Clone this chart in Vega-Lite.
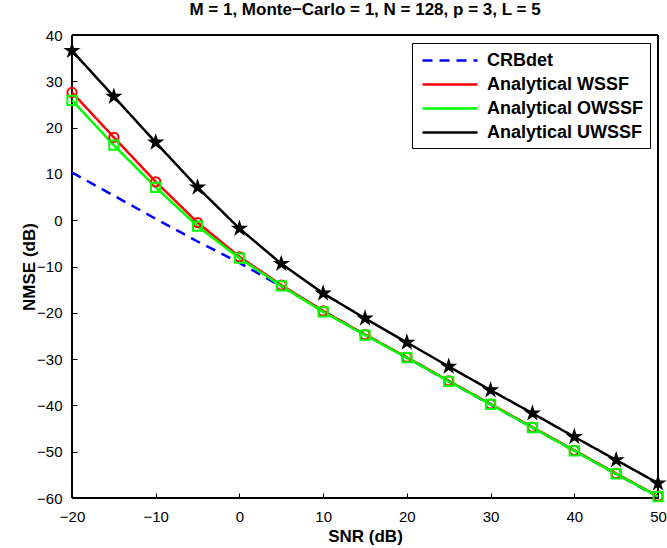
{
  "$schema": "https://vega.github.io/schema/vega-lite/v6.json",
  "width": 586,
  "height": 463,
  "autosize": {"type": "none"},
  "padding": {"left": 72, "top": 35, "right": 9, "bottom": 50},
  "background": "white",
  "title": {"text": "M = 1, Monte−Carlo = 1, N = 128, p = 3, L = 5", "font": "Liberation Sans", "fontSize": 17, "fontWeight": "bold", "color": "black", "anchor": "middle", "offset": 9},
  "config": {
    "view": {"stroke": "#000000", "strokeWidth": 1},
    "axis": {"labelFont": "Liberation Sans", "labelFontSize": 15, "labelColor": "black", "titleFont": "Liberation Sans", "titleFontSize": 17, "titleFontWeight": "bold", "titleColor": "black", "domainColor": "black", "tickColor": "black", "gridColor": "black", "gridDash": [1, 3], "gridOpacity": 1, "gridWidth": 0.8, "tickSize": -5, "labelFlush": false}
  },
  "data": {"values": [
    {"snr": -20, "nmse": 10.3, "series": "CRBdet"}, {"snr": -15, "nmse": 5.3, "series": "CRBdet"}, {"snr": -10, "nmse": 0.3, "series": "CRBdet"}, {"snr": -5, "nmse": -4.6, "series": "CRBdet"}, {"snr": 0, "nmse": -9.2, "series": "CRBdet"}, {"snr": 5, "nmse": -14.3, "series": "CRBdet"}, {"snr": 10, "nmse": -19.6, "series": "CRBdet"}, {"snr": 15, "nmse": -24.7, "series": "CRBdet"}, {"snr": 20, "nmse": -29.7, "series": "CRBdet"}, {"snr": 25, "nmse": -34.8, "series": "CRBdet"}, {"snr": 30, "nmse": -39.8, "series": "CRBdet"}, {"snr": 35, "nmse": -44.8, "series": "CRBdet"}, {"snr": 40, "nmse": -49.8, "series": "CRBdet"}, {"snr": 45, "nmse": -54.8, "series": "CRBdet"}, {"snr": 50, "nmse": -59.8, "series": "CRBdet"},
    {"snr": -20, "nmse": 27.6, "series": "Analytical WSSF"}, {"snr": -15, "nmse": 17.9, "series": "Analytical WSSF"}, {"snr": -10, "nmse": 8.3, "series": "Analytical WSSF"}, {"snr": -5, "nmse": -0.5, "series": "Analytical WSSF"}, {"snr": 0, "nmse": -7.9, "series": "Analytical WSSF"}, {"snr": 5, "nmse": -14.0, "series": "Analytical WSSF"}, {"snr": 10, "nmse": -19.6, "series": "Analytical WSSF"}, {"snr": 15, "nmse": -24.7, "series": "Analytical WSSF"}, {"snr": 20, "nmse": -29.6, "series": "Analytical WSSF"}, {"snr": 25, "nmse": -34.7, "series": "Analytical WSSF"}, {"snr": 30, "nmse": -39.7, "series": "Analytical WSSF"}, {"snr": 35, "nmse": -44.7, "series": "Analytical WSSF"}, {"snr": 40, "nmse": -49.7, "series": "Analytical WSSF"}, {"snr": 45, "nmse": -54.7, "series": "Analytical WSSF"}, {"snr": 50, "nmse": -59.6, "series": "Analytical WSSF"},
    {"snr": -20, "nmse": 25.9, "series": "Analytical OWSSF"}, {"snr": -15, "nmse": 16.2, "series": "Analytical OWSSF"}, {"snr": -10, "nmse": 7.1, "series": "Analytical OWSSF"}, {"snr": -5, "nmse": -1.3, "series": "Analytical OWSSF"}, {"snr": 0, "nmse": -8.2, "series": "Analytical OWSSF"}, {"snr": 5, "nmse": -14.2, "series": "Analytical OWSSF"}, {"snr": 10, "nmse": -19.8, "series": "Analytical OWSSF"}, {"snr": 15, "nmse": -24.8, "series": "Analytical OWSSF"}, {"snr": 20, "nmse": -29.7, "series": "Analytical OWSSF"}, {"snr": 25, "nmse": -34.8, "series": "Analytical OWSSF"}, {"snr": 30, "nmse": -39.8, "series": "Analytical OWSSF"}, {"snr": 35, "nmse": -44.8, "series": "Analytical OWSSF"}, {"snr": 40, "nmse": -49.8, "series": "Analytical OWSSF"}, {"snr": 45, "nmse": -54.8, "series": "Analytical OWSSF"}, {"snr": 50, "nmse": -59.7, "series": "Analytical OWSSF"},
    {"snr": -20, "nmse": 36.6, "series": "Analytical UWSSF"}, {"snr": -15, "nmse": 26.7, "series": "Analytical UWSSF"}, {"snr": -10, "nmse": 16.8, "series": "Analytical UWSSF"}, {"snr": -5, "nmse": 7.1, "series": "Analytical UWSSF"}, {"snr": 0, "nmse": -1.8, "series": "Analytical UWSSF"}, {"snr": 5, "nmse": -9.4, "series": "Analytical UWSSF"}, {"snr": 10, "nmse": -15.8, "series": "Analytical UWSSF"}, {"snr": 15, "nmse": -21.2, "series": "Analytical UWSSF"}, {"snr": 20, "nmse": -26.4, "series": "Analytical UWSSF"}, {"snr": 25, "nmse": -31.6, "series": "Analytical UWSSF"}, {"snr": 30, "nmse": -36.7, "series": "Analytical UWSSF"}, {"snr": 35, "nmse": -41.7, "series": "Analytical UWSSF"}, {"snr": 40, "nmse": -46.8, "series": "Analytical UWSSF"}, {"snr": 45, "nmse": -51.8, "series": "Analytical UWSSF"}, {"snr": 50, "nmse": -56.8, "series": "Analytical UWSSF"}
  ]},
  "layer": [
    {
      "mark": {"type": "rule", "color": "black", "strokeWidth": 1},
      "encoding": {"y": {"datum": 40, "type": "quantitative"}}
    },
    {
      "mark": {"type": "rule", "color": "black", "strokeWidth": 1},
      "encoding": {"y": {"datum": -60, "type": "quantitative"}}
    },
    {
      "mark": {"type": "rule", "color": "black", "strokeWidth": 1},
      "encoding": {"x": {"datum": 50, "type": "quantitative"}}
    },
    {
      "mark": {"type": "rule", "color": "black", "strokeWidth": 1},
      "encoding": {"x": {"datum": -20, "type": "quantitative"}}
    },
    {
      "mark": {"type": "line", "strokeWidth": 2.5},
      "encoding": {
        "x": {"field": "snr", "type": "quantitative", "scale": {"domain": [-20, 50], "nice": false, "zero": false}, "axis": {"title": "SNR (dB)", "values": [-20, -10, 0, 10, 20, 30, 40, 50], "labelPadding": 16, "titlePadding": 4}},
        "y": {"field": "nmse", "type": "quantitative", "scale": {"domain": [-60, 40], "nice": false, "zero": false}, "axis": {"title": "NMSE (dB)", "values": [-60, -50, -40, -30, -20, -10, 0, 10, 20, 30, 40], "labelPadding": 15, "titlePadding": -2}},
        "color": {"field": "series", "type": "nominal", "scale": {"domain": ["CRBdet", "Analytical WSSF", "Analytical OWSSF", "Analytical UWSSF"], "range": ["#0000ff", "#ff0000", "#00ff00", "#000000"]},
          "legend": {"title": null, "orient": "top-right", "offset": 8, "padding": 6, "strokeColor": "black", "fillColor": "white", "symbolType": "M-1,0H4.5", "symbolSize": 400, "symbolStrokeWidth": 2.5, "labelFont": "Liberation Sans", "labelFontSize": 18, "labelFontWeight": "bold", "labelColor": "black", "rowPadding": 3, "labelOffset": 43, "symbolOffset": 3}},
        "strokeDash": {"field": "series", "type": "nominal", "scale": {"domain": ["CRBdet", "Analytical WSSF", "Analytical OWSSF", "Analytical UWSSF"], "range": [[10, 7], [1, 0], [1, 0], [1, 0]]},
          "legend": {"title": null, "orient": "top-right", "offset": 8, "padding": 6, "strokeColor": "black", "fillColor": "white", "symbolType": "M-1,0H4.5", "symbolSize": 400, "symbolStrokeWidth": 2.5, "labelFont": "Liberation Sans", "labelFontSize": 18, "labelFontWeight": "bold", "labelColor": "black", "rowPadding": 3, "labelOffset": 43, "symbolOffset": 3}}
      }
    },
    {
      "transform": [{"filter": "datum.series === 'Analytical WSSF'"}],
      "mark": {"type": "point", "shape": "circle", "size": 85, "strokeWidth": 2, "color": "#ff0000", "filled": false, "opacity": 1},
      "encoding": {"x": {"field": "snr", "type": "quantitative"}, "y": {"field": "nmse", "type": "quantitative"}}
    },
    {
      "transform": [{"filter": "datum.series === 'Analytical OWSSF'"}],
      "mark": {"type": "point", "shape": "square", "size": 85, "strokeWidth": 2, "color": "#00ff00", "filled": false, "opacity": 1},
      "encoding": {"x": {"field": "snr", "type": "quantitative"}, "y": {"field": "nmse", "type": "quantitative"}}
    },
    {
      "transform": [{"filter": "datum.series === 'Analytical UWSSF'"}],
      "mark": {"type": "point", "shape": "M0,-1L0.2245,-0.309L0.951,-0.309L0.363,0.118L0.588,0.809L0,0.382L-0.588,0.809L-0.363,0.118L-0.951,-0.309L-0.2245,-0.309Z", "size": 330, "color": "#000000", "filled": true, "opacity": 1},
      "encoding": {"x": {"field": "snr", "type": "quantitative"}, "y": {"field": "nmse", "type": "quantitative"}}
    }
  ]
}
